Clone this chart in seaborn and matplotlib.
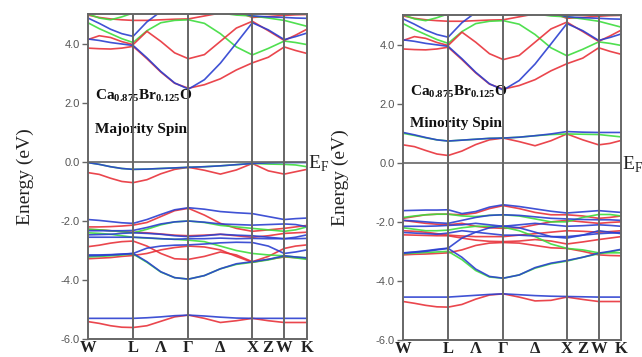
import numpy as np
import pandas as pd
import matplotlib
matplotlib.use('Agg')
import matplotlib.pyplot as plt
import seaborn as sns

# k-path W - L - Gamma - X - W - K (fcc, 2pi/a units)
seg_len = [0.707, 0.866, 1.0, 0.5, 0.354]
seg_div = [4, 4, 4, 2, 2]
sym_labels = ['W', 'L', 'Λ', 'Γ', 'Δ', 'X', 'Z', 'W', 'K']
yticks = [-6, -4, -2, 0, 2, 4]

# band energies (eV) at the k samples: W,..,L,..,Gamma,..,X,.,W,.,K
cond_bands = [
    ('red',   [4.98, 4.9, 4.85, 4.82, 4.8, 4.8, 4.82, 4.84, 4.85, 4.95, 5.05, 5.1, 4.9, 4.93, 4.97, 4.99, 5.0]),
    ('green', [5.02, 4.88, 4.82, 4.92, 5.05, 5.1, 5.1, 5.1, 5.1, 5.1, 5.05, 4.98, 4.95, 4.88, 4.8, 4.7, 4.6]),
    ('blue',  [4.88, 4.7, 4.5, 4.35, 4.26, 4.75, 5.1, 5.2, 5.2, 5.2, 5.2, 5.1, 4.95, 4.92, 4.9, 4.88, 4.87]),
    ('green', [4.72, 4.52, 4.35, 4.18, 4.05, 4.45, 4.72, 4.8, 4.82, 4.7, 4.35, 3.9, 3.63, 3.85, 4.1, 4.05, 3.98]),
    ('red',   [4.15, 4.28, 4.22, 4.08, 3.98, 4.43, 4.09, 3.7, 3.5, 3.64, 4.09, 4.54, 4.77, 4.45, 4.12, 4.3, 4.5]),
    ('red',   [3.86, 3.84, 3.83, 3.86, 3.92, 3.5, 3.05, 2.67, 2.5, 2.62, 2.82, 3.12, 3.36, 3.55, 3.9, 3.78, 3.68]),
    ('blue',  [4.17, 4.12, 4.05, 4.0, 3.95, 3.53, 3.07, 2.68, 2.47, 2.79, 3.35, 4.03, 4.72, 4.48, 4.15, 4.25, 4.37]),
]

maj_gap = [
    ('red',   [-0.36, -0.42, -0.55, -0.66, -0.7, -0.6, -0.4, -0.25, -0.18, -0.28, -0.41, -0.27, -0.05, -0.3, -0.41, -0.33, -0.25]),
    ('green', [-0.02, -0.08, -0.16, -0.22, -0.25, -0.24, -0.22, -0.2, -0.18, -0.16, -0.13, -0.09, -0.05, -0.07, -0.08, -0.1, -0.16]),
    ('blue',  [-0.02, -0.08, -0.16, -0.22, -0.25, -0.24, -0.22, -0.2, -0.18, -0.16, -0.13, -0.09, -0.05, -0.03, -0.02, -0.02, -0.02]),
]
min_gap = [
    ('red',   [0.61, 0.55, 0.42, 0.3, 0.25, 0.4, 0.62, 0.78, 0.84, 0.72, 0.58, 0.75, 0.98, 0.78, 0.61, 0.66, 0.76]),
    ('green', [1.0, 0.93, 0.85, 0.78, 0.74, 0.77, 0.8, 0.83, 0.84, 0.87, 0.92, 0.96, 0.98, 0.97, 0.96, 0.92, 0.88]),
    ('blue',  [1.03, 0.95, 0.86, 0.78, 0.74, 0.77, 0.8, 0.83, 0.84, 0.87, 0.92, 0.98, 1.06, 1.04, 1.03, 1.03, 1.03]),
]

maj_val = [
    ('red',   [-2.2, -2.2, -2.19, -2.17, -2.14, -2.05, -1.85, -1.65, -1.57, -1.8, -2.08, -2.25, -2.35, -2.3, -2.25, -2.2, -2.15]),
    ('red',   [-2.28, -2.3, -2.33, -2.36, -2.38, -2.4, -2.44, -2.48, -2.5, -2.48, -2.45, -2.5, -2.55, -2.5, -2.42, -2.4, -2.38]),
    ('red',   [-2.87, -2.82, -2.75, -2.7, -2.68, -2.85, -3.1, -3.28, -3.3, -3.2, -3.05, -3.15, -3.38, -3.2, -2.93, -2.85, -2.81]),
    ('red',   [-3.28, -3.26, -3.24, -3.2, -3.17, -3.1, -2.98, -2.9, -2.85, -2.88, -2.98, -3.2, -3.4, -3.3, -3.22, -3.24, -3.27]),
    ('green', [-2.28, -2.3, -2.33, -2.36, -2.4, -2.28, -2.13, -2.03, -2.0, -2.05, -2.15, -2.2, -2.25, -2.3, -2.35, -2.3, -2.2]),
    ('green', [-2.4, -2.42, -2.45, -2.5, -2.55, -2.58, -2.6, -2.62, -2.65, -2.7, -2.85, -3.0, -3.1, -3.15, -3.18, -3.22, -3.25]),
    ('green', [-3.22, -3.2, -3.18, -3.15, -3.12, -3.4, -3.73, -3.92, -3.97, -3.85, -3.62, -3.47, -3.4, -3.32, -3.2, -3.25, -3.3]),
    ('blue',  [-1.95, -1.98, -2.02, -2.06, -2.08, -1.95, -1.78, -1.62, -1.55, -1.6, -1.68, -1.72, -1.75, -1.85, -1.95, -1.92, -1.9]),
    ('blue',  [-2.33, -2.33, -2.33, -2.33, -2.32, -2.22, -2.1, -2.03, -2.0, -2.04, -2.1, -2.12, -2.14, -2.12, -2.1, -2.12, -2.19]),
    ('blue',  [-2.47, -2.46, -2.45, -2.42, -2.4, -2.42, -2.45, -2.5, -2.53, -2.5, -2.45, -2.48, -2.5, -2.55, -2.6, -2.55, -2.47]),
    ('blue',  [-2.55, -2.55, -2.55, -2.55, -2.55, -2.57, -2.6, -2.62, -2.6, -2.6, -2.58, -2.6, -2.59, -2.6, -2.6, -2.6, -2.59]),
    ('blue',  [-3.15, -3.15, -3.14, -3.12, -3.1, -2.92, -2.85, -2.82, -2.81, -2.78, -2.74, -2.72, -2.73, -2.85, -3.1, -3.05, -2.98]),
    ('blue',  [-3.18, -3.17, -3.15, -3.13, -3.1, -3.38, -3.72, -3.92, -3.97, -3.85, -3.62, -3.45, -3.38, -3.3, -3.18, -3.22, -3.25]),
]
min_val = [
    ('red',   [-1.88, -1.82, -1.76, -1.74, -1.74, -1.76, -1.7, -1.55, -1.45, -1.55, -1.68, -1.76, -1.76, -1.8, -1.88, -1.85, -1.8]),
    ('red',   [-1.95, -2.0, -2.05, -2.08, -2.1, -2.05, -2.15, -2.2, -2.22, -2.2, -2.1, -2.0, -1.95, -2.0, -2.05, -2.02, -2.0]),
    ('red',   [-2.3, -2.32, -2.35, -2.4, -2.45, -2.48, -2.5, -2.5, -2.5, -2.45, -2.4, -2.35, -2.3, -2.32, -2.35, -2.33, -2.3]),
    ('red',   [-2.44, -2.45, -2.46, -2.47, -2.47, -2.55, -2.62, -2.66, -2.67, -2.65, -2.6, -2.65, -2.75, -2.68, -2.6, -2.55, -2.5]),
    ('red',   [-3.12, -3.1, -3.09, -3.07, -3.05, -2.95, -2.8, -2.72, -2.7, -2.72, -2.8, -2.88, -2.9, -3.0, -3.12, -3.14, -3.15]),
    ('green', [-1.85, -1.8, -1.76, -1.74, -1.74, -1.8, -1.82, -1.78, -1.76, -1.8, -1.9, -2.0, -2.0, -1.85, -1.75, -1.75, -1.8]),
    ('green', [-2.2, -2.25, -2.3, -2.3, -2.28, -2.2, -2.15, -2.15, -2.18, -2.3, -2.5, -2.75, -2.9, -2.95, -3.05, -3.05, -3.05]),
    ('green', [-3.08, -3.06, -3.04, -3.02, -3.0, -3.28, -3.65, -3.87, -3.91, -3.8, -3.57, -3.42, -3.33, -3.2, -3.08, -3.02, -2.95]),
    ('blue',  [-1.62, -1.61, -1.6, -1.6, -1.59, -1.72, -1.65, -1.5, -1.42, -1.48, -1.56, -1.64, -1.7, -1.66, -1.62, -1.65, -1.68]),
    ('blue',  [-1.95, -1.97, -2.0, -2.03, -2.05, -1.95, -1.85, -1.78, -1.76, -1.78, -1.83, -1.88, -1.9, -1.92, -1.93, -1.93, -1.95]),
    ('blue',  [-2.15, -2.15, -2.15, -2.14, -2.12, -2.1, -2.05, -2.1, -2.15, -2.1, -2.05, -2.1, -2.15, -2.13, -2.1, -2.12, -2.15]),
    ('blue',  [-2.36, -2.38, -2.4, -2.42, -2.38, -2.3, -2.35, -2.4, -2.45, -2.45, -2.48, -2.5, -2.5, -2.45, -2.4, -2.38, -2.36]),
    ('blue',  [-3.05, -3.02, -2.98, -2.93, -2.89, -2.55, -2.35, -2.2, -2.14, -2.2, -2.35, -2.5, -2.55, -2.45, -2.3, -2.35, -2.4]),
    ('blue',  [-3.06, -3.03, -3.0, -2.95, -2.9, -3.2, -3.6, -3.85, -3.91, -3.8, -3.55, -3.4, -3.31, -3.2, -3.06, -3.0, -2.93]),
]

maj_deep = [
    ('red',  [-5.41, -5.47, -5.55, -5.6, -5.61, -5.55, -5.4, -5.25, -5.19, -5.3, -5.44, -5.38, -5.3, -5.38, -5.44, -5.44, -5.44]),
    ('blue', [-5.3, -5.3, -5.3, -5.3, -5.3, -5.28, -5.25, -5.21, -5.19, -5.22, -5.26, -5.29, -5.3, -5.3, -5.3, -5.3, -5.3]),
]
min_deep = [
    ('red',  [-4.7, -4.76, -4.83, -4.88, -4.89, -4.8, -4.62, -4.48, -4.44, -4.55, -4.68, -4.66, -4.55, -4.63, -4.7, -4.7, -4.7]),
    ('blue', [-4.55, -4.55, -4.55, -4.55, -4.55, -4.52, -4.49, -4.46, -4.44, -4.47, -4.5, -4.52, -4.53, -4.54, -4.55, -4.55, -4.55]),
]

colors = {'red': '#e8323a', 'green': '#3ddc3d', 'blue': '#2b3fd0'}

# k coordinates of the samples and of the labels
k = []
nodes = [0.0]
start = 0.0
for L, n in zip(seg_len, seg_div):
    for j in range(n):
        k.append(start + L * j / n)
    start += L
    nodes.append(start)
k.append(start)
k = np.array(k)
label_pos = [nodes[0], nodes[1], (nodes[1] + nodes[2]) / 2, nodes[2],
             (nodes[2] + nodes[3]) / 2, nodes[3], (nodes[3] + nodes[4]) / 2,
             nodes[4], nodes[5]]

sns.set_style('white')
plt.rcParams['font.family'] = ['Liberation Serif', 'DejaVu Serif']
plt.rcParams['mathtext.fontset'] = 'custom'
plt.rcParams['mathtext.rm'] = 'Liberation Serif'
plt.rcParams['mathtext.bf'] = 'Liberation Serif:bold'

fig = plt.figure(figsize=(6.42, 3.57), dpi=100)
ax1 = fig.add_axes([0.137, 0.0504, 0.341, 0.909])
ax2 = fig.add_axes([0.628, 0.048, 0.3396, 0.909])

panels = [
    (ax1, cond_bands + maj_val + maj_deep + maj_gap, 'Majority Spin', 0.736, 0.635),
    (ax2, cond_bands + min_val + min_deep + min_gap, 'Minority Spin', 0.751, 0.656),
]

for ax, bands, spin, y_name, y_spin in panels:
    for c, e in bands:
        sns.lineplot(x=k, y=e, ax=ax, color=colors[c], lw=1.2, sort=False,
                     estimator=None, alpha=0.9)
    for xn in nodes[1:-1]:
        ax.axvline(xn, color='#666666', lw=1.4, zorder=5)
    ax.axhline(0, color='#666666', lw=1.2, zorder=5)
    ax.set_xlim(nodes[0], nodes[-1])
    ax.set_ylim(-6, 5)
    ax.set_yticks(yticks)
    ax.set_yticklabels([f'{v:.1f}' for v in yticks], family='Liberation Sans',
                       fontsize=8, color='#555555')
    ax.tick_params(axis='y', direction='out', length=4, width=1,
                   color='#666666', left=True, pad=2)
    ax.set_xticks(label_pos)
    ax.set_xticklabels(sym_labels, fontsize=12, fontweight='bold', color='#222222')
    ax.tick_params(axis='x', length=0, pad=1)
    for s in ax.spines.values():
        s.set_color('#666666')
        s.set_linewidth(1.4)
    ax.set_ylabel('Energy (eV)', fontsize=14, color='#222222', labelpad=19)
    ax.text(0.03, y_name, r'$\mathbf{Ca_{0.875}Br_{0.125}O}$', transform=ax.transAxes,
            fontsize=11, color='#111111')
    ax.text(0.03, y_spin, spin, transform=ax.transAxes,
            fontsize=11, fontweight='bold', color='#111111')
    ax.text(1.004, 0.54, r'$\mathrm{E}_{\mathrm{F}}$', transform=ax.transAxes,
            fontsize=14, color='#222222', va='center', ha='left')

fig.savefig('out.png', dpi=100)
